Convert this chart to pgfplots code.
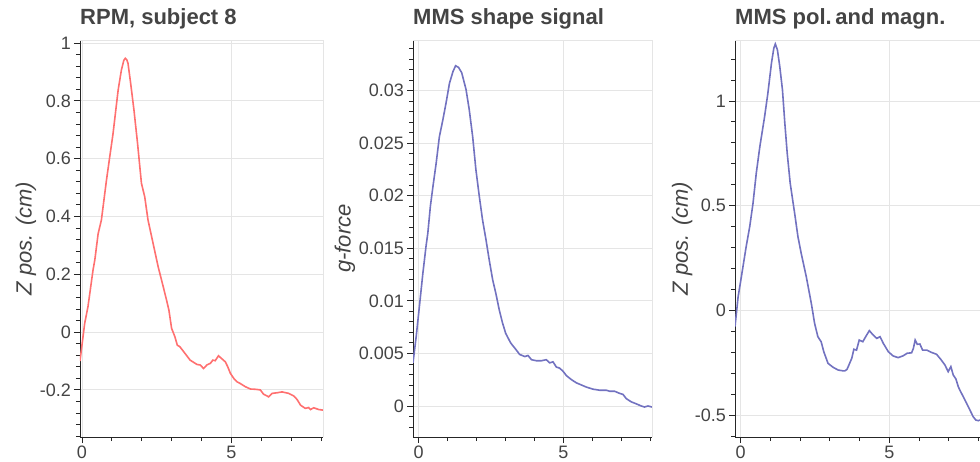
\documentclass[border=0pt]{standalone}
\usepackage{pgfplots}
\pgfplotsset{compat=1.18}
\usepackage{fontspec}
\setmainfont{Liberation Sans}
\definecolor{redl}{RGB}{255,112,112}
\definecolor{bluel}{RGB}{114,114,192}
\definecolor{gridc}{RGB}{229,229,229}
\definecolor{txt}{RGB}{68,68,68}
\pgfplotsset{
 mystyle/.style={
  scale only axis, anchor=south west,
  axis lines*=left, axis line style={black!85, line width=0.8pt},
  tick align=outside, major tick length=6pt, minor tick length=4pt,
  tick style={black!85, line width=0.8pt},
  scaled ticks=false,
  xmajorgrids, ymajorgrids, grid style={gridc, line width=0.8pt},
  tick label style={font=\fontsize{18}{18}\selectfont, text=txt, inner sep=0pt},
  yticklabel style={xshift=-3pt},
  xticklabel style={yshift=-3pt},
  xtick={0,5}, xticklabels={0,5}, minor xtick={1,2,3,4,6,7,8},
  title style={at={(axis description cs:0,1)}, anchor=base west, yshift=9pt, font=\bfseries\fontsize{22}{22}\selectfont, text=txt, inner sep=0pt},
  ylabel style={font=\itshape\fontsize{22}{22}\selectfont, text=txt, anchor=center},
  height=397pt,
  after end axis/.code={\draw[gridc, line width=0.8pt] (rel axis cs:0,1) -- (rel axis cs:1,1) -- (rel axis cs:1,0);},
 }
}
\begin{document}
\begin{tikzpicture}
\useasboundingbox (0,0) rectangle (980pt,461pt);
% Panel 1
\begin{axis}[mystyle, at={(80pt,24pt)}, width=243pt,
  xmin=-0.067, xmax=8.07, ymin=-0.363, ymax=1.0104,
  ytick={-0.2,0,0.2,0.4,0.6,0.8,1}, yticklabels={-0.2,0,0.2,0.4,0.6,0.8,1},
  minor ytick={-0.36,-0.32,-0.28,-0.24,-0.16,-0.12,-0.08,-0.04,0.04,0.08,0.12,0.16,0.24,0.28,0.32,0.36,0.44,0.48,0.52,0.56,0.64,0.68,0.72,0.76,0.84,0.88,0.92,0.96},
  title={RPM, subject 8}, ylabel={Z pos. (cm)},
  ylabel style={at={(axis description cs:-0.222,0.5)}}]
\addplot[redl, line width=1.6pt] coordinates {
(-0.067,-0.10) (0.09,0.03) (0.2,0.088) (0.37,0.215) (0.43,0.25) (0.54,0.34) (0.65,0.388)
(0.82,0.526) (0.93,0.607) (1.04,0.687) (1.21,0.837) (1.32,0.907) (1.40,0.94) (1.45,0.947)
(1.50,0.942) (1.54,0.93) (1.63,0.86) (1.74,0.768) (1.86,0.653) (1.99,0.515) (2.1,0.468)
(2.21,0.388) (2.38,0.307) (2.55,0.226) (2.72,0.157) (2.83,0.111) (2.91,0.076) (3.0,0.013)
(3.11,-0.016) (3.19,-0.045) (3.28,-0.051) (3.45,-0.074) (3.62,-0.097) (3.85,-0.112)
(3.96,-0.114) (4.07,-0.126) (4.18,-0.114) (4.30,-0.108) (4.38,-0.097) (4.46,-0.099)
(4.57,-0.082) (4.69,-0.093) (4.80,-0.103) (4.88,-0.12) (4.97,-0.143) (5.08,-0.16)
(5.19,-0.172) (5.30,-0.178) (5.47,-0.189) (5.64,-0.197) (5.81,-0.198) (5.97,-0.2)
(6.08,-0.215) (6.25,-0.224) (6.37,-0.212) (6.53,-0.21) (6.70,-0.207) (6.92,-0.212)
(7.09,-0.221) (7.20,-0.233) (7.32,-0.253) (7.48,-0.264) (7.59,-0.261) (7.65,-0.268)
(7.76,-0.262) (7.93,-0.268) (8.07,-0.27)};
\end{axis}
% Panel 2
\begin{axis}[mystyle, at={(413pt,24pt)}, width=239pt,
  xmin=-0.19, xmax=8.06, ymin=-0.00295, ymax=0.0348,
  ytick={0,0.005,0.01,0.015,0.02,0.025,0.03}, yticklabels={0,0.005,0.01,0.015,0.02,0.025,0.03},
  minor ytick={-0.002,-0.001,0.001,0.002,0.003,0.004,0.006,0.007,0.008,0.009,0.011,0.012,0.013,0.014,0.016,0.017,0.018,0.019,0.021,0.022,0.023,0.024,0.026,0.027,0.028,0.029,0.031,0.032,0.033,0.034},
  title={MMS shape signal}, ylabel={g-force},
  ylabel style={at={(axis description cs:-0.2845,0.5)}}]
\addplot[bluel, line width=1.6pt] coordinates {
(-0.19,0.0041) (-0.08,0.0066) (0.03,0.00945) (0.15,0.0126) (0.26,0.0152) (0.32,0.0164)
(0.41,0.019) (0.50,0.0209) (0.61,0.0231) (0.72,0.0256) (0.84,0.0272) (0.95,0.0288)
(1.07,0.0307) (1.19,0.0318) (1.28,0.03235) (1.38,0.0322) (1.49,0.0317) (1.64,0.0301)
(1.75,0.0282) (1.87,0.0256) (1.98,0.0225) (2.10,0.0199) (2.21,0.0177) (2.33,0.0158)
(2.44,0.0139) (2.56,0.012) (2.67,0.0107) (2.79,0.0091) (2.90,0.0079) (3.01,0.0069)
(3.18,0.006) (3.41,0.0052) (3.49,0.0049) (3.67,0.0047) (3.78,0.0048) (3.90,0.0044)
(4.07,0.0043) (4.24,0.0043) (4.41,0.0044) (4.53,0.0041) (4.64,0.0042) (4.76,0.0037)
(4.87,0.0036) (4.99,0.0033) (5.10,0.0029) (5.28,0.0025) (5.45,0.0022) (5.62,0.002)
(5.79,0.0018) (6.02,0.0016) (6.25,0.0015) (6.48,0.0015) (6.60,0.0014) (6.77,0.0014)
(6.94,0.0012) (7.06,0.0011) (7.17,0.0007) (7.34,0.0004) (7.52,0.0002) (7.69,0.0000)
(7.80,-0.0001) (7.92,0.0) (8.06,-0.0001)};
\end{axis}
% Panel 3
\begin{axis}[mystyle, at={(735pt,24pt)}, width=245pt,
  xmin=-0.185, xmax=8.05, ymin=-0.605, ymax=1.291,
  ytick={-0.5,0,0.5,1}, yticklabels={-0.5,0,0.5,1},
  minor ytick={-0.6,-0.4,-0.3,-0.2,-0.1,0.1,0.2,0.3,0.4,0.6,0.7,0.8,0.9,1.1,1.2},
  title={MMS pol.\,and magn.}, ylabel={Z pos. (cm)},
  ylabel style={at={(axis description cs:-0.216,0.5)}}]
\addplot[bluel, line width=1.6pt] coordinates {
(-0.185,-0.078) (-0.08,0.065) (0.03,0.161) (0.19,0.304) (0.31,0.4) (0.42,0.511)
(0.53,0.655) (0.65,0.782) (0.81,0.925) (0.92,1.037) (1.04,1.18) (1.12,1.252)
(1.17,1.272) (1.24,1.244) (1.32,1.164) (1.41,1.053) (1.49,0.893) (1.57,0.75)
(1.67,0.607) (1.82,0.463) (1.93,0.352) (2.04,0.272) (2.21,0.161) (2.38,0.033)
(2.49,-0.062) (2.60,-0.126) (2.71,-0.15) (2.80,-0.198) (2.94,-0.253) (3.11,-0.272)
(3.28,-0.285) (3.44,-0.289) (3.51,-0.289) (3.58,-0.282) (3.62,-0.269) (3.74,-0.229)
(3.81,-0.186) (3.90,-0.19) (3.99,-0.142) (4.11,-0.15) (4.22,-0.123) (4.33,-0.097)
(4.44,-0.115) (4.58,-0.134) (4.69,-0.126) (4.80,-0.158) (4.97,-0.198) (5.13,-0.218)
(5.30,-0.226) (5.47,-0.217) (5.60,-0.205) (5.75,-0.203) (5.81,-0.182) (5.87,-0.142)
(5.94,-0.162) (6.03,-0.161) (6.12,-0.19) (6.26,-0.19) (6.42,-0.201) (6.59,-0.21)
(6.73,-0.234) (6.87,-0.261) (6.98,-0.293) (7.07,-0.269) (7.15,-0.309) (7.24,-0.328)
(7.32,-0.365) (7.40,-0.389) (7.49,-0.413) (7.60,-0.444) (7.71,-0.476) (7.82,-0.508)
(7.91,-0.524) (7.99,-0.527) (8.05,-0.524)};
\end{axis}
\end{tikzpicture}
\end{document}
